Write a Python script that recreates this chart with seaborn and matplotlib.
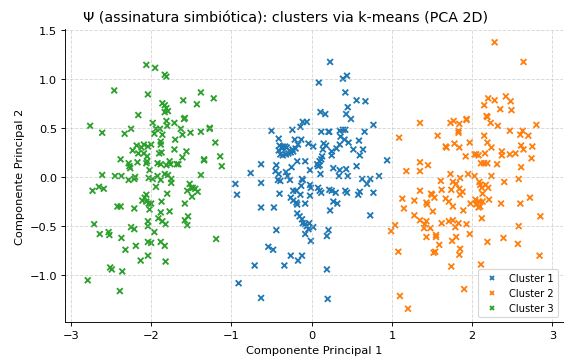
import matplotlib
matplotlib.use('Agg')
import matplotlib.pyplot as plt
import pandas as pd
import seaborn as sns

# PCA coordinates, one pair of lists per cluster
c1_x = [0.23, 0.09, 0.39, 0.44, 0.42, 0.56, 0.67, 0.45, 0.43, 0.49,
        0.11, 0.17, -0.11, -0.06, -0.14, -0.24, -0.50, 0.12, 0.21, 0.22,
        0.35, 0.39, 0.42, 0.66, 0.77, -0.41, -0.21, -0.13, 0.36, 0.41,
        0.46, 0.59, -0.04, 0.02, 0.15, 0.18, -0.17, -0.40, -0.36, -0.33,
        -0.31, -0.20, -0.24, -0.37, -0.41, -0.39, -0.36, -0.32, -0.29, -0.26,
        -0.23, 0.14, 0.25, 0.25, 0.31, 0.35, 0.52, 0.64, 0.60, 0.13,
        0.12, 0.10, 0.07, 0.08, 0.10, -0.18, -0.08, -0.44, -0.25, -0.63,
        0.94, -0.45, -0.41, -0.32, -0.30, -0.02, 0.11, 0.27, 0.35, 0.43,
        0.56, 0.34, 0.45, -0.76, 0.84, -0.42, -0.39, -0.27, -0.12, -0.11,
        -0.63, -0.13, -0.02, -0.01, 0.08, 0.10, 0.12, 0.22, 0.25, 0.30,
        0.42, 0.44, 0.60, 0.58, 0.63, 0.69, 0.73, 0.77, -0.23, -0.19,
        -0.14, -0.40, -0.26, -0.23, -0.19, -0.18, -0.08, -0.02, 0.27, 0.32,
        0.23, -0.63, -0.47, -0.18, -0.15, -0.12, -0.11, -0.08, -0.06, -0.03,
        -0.04, 0.02, -0.08, -0.01, 0.21, 0.19, 0.73, -0.44, -0.54, -0.48,
        -0.26, -0.17, -0.12, -0.34, -0.71, 0.19, -0.63, 0.20,
        -0.95, -0.93, -0.91]
c1_y = [1.17, 0.96, 1.00, 1.03, 0.86, 0.78, 0.77, 0.71, 0.64, 0.59,
        0.66, 0.64, 0.56, 0.56, 0.51, 0.48, 0.47, 0.46, 0.46, 0.46,
        0.47, 0.48, 0.48, 0.46, 0.53, 0.39, 0.38, 0.38, 0.41, 0.38,
        0.35, 0.37, 0.34, 0.31, 0.34, 0.32, 0.33, 0.32, 0.31, 0.31,
        0.30, 0.29, 0.28, 0.29, 0.27, 0.23, 0.22, 0.23, 0.24, 0.25,
        0.26, 0.28, 0.26, 0.22, 0.29, 0.33, 0.28, 0.28, 0.22, 0.21,
        0.18, 0.16, 0.13, 0.11, 0.12, 0.16, 0.16, 0.12, 0.10, 0.13,
        0.17, 0.06, 0.03, 0.05, 0.01, 0.07, 0.03, 0.09, 0.07, 0.08,
        0.11, 0.01, 0.01, 0.04, 0.01, -0.03, -0.04, -0.03, -0.02, -0.03,
        -0.06, -0.09, -0.08, -0.11, -0.11, -0.14, -0.16, -0.13, -0.14, -0.16,
        -0.14, -0.16, -0.15, -0.18, -0.02, -0.07, -0.02, -0.16, -0.14, -0.14,
        -0.18, -0.17, -0.21, -0.24, -0.26, -0.28, -0.27, -0.19, -0.25, -0.27,
        -0.34, -0.31, -0.31, -0.37, -0.40, -0.43, -0.47, -0.48, -0.50, -0.47,
        -0.53, -0.51, -0.58, -0.65, -0.54, -0.60, -0.39, -0.54, -0.71, -0.74,
        -0.80, -0.85, -0.80, -0.90, -0.90, -0.94, -1.23, -1.24,
        -0.07, -0.18, -1.08]

c2_x = [2.28, 2.64, 2.20, 2.28, 2.42, 2.48, 2.15, 2.35, 2.49, 2.18,
        2.19, 2.23, 2.32, 1.93, 1.93, 1.77, 1.73, 1.84, 1.83, 1.83,
        1.35, 1.09, 1.57, 1.67, 1.68, 1.78, 1.84, 1.97, 2.15, 2.19,
        2.24, 2.47, 2.63, 2.60, 2.70, 2.80, 2.61, 2.64, 2.75, 2.74,
        2.37, 2.37, 2.47, 2.54, 1.92, 2.03, 2.05, 2.08, 2.16, 2.11,
        2.15, 2.19, 2.31, 2.61, 1.35, 1.45, 1.18, 1.35, 1.73, 1.95,
        2.03, 2.24, 2.58, 2.40, 1.61, 1.76, 1.80, 1.85, 2.09, 2.10,
        2.17, 2.20, 2.12, 2.13, 1.35, 1.49, 1.50, 1.62, 1.74, 1.84,
        1.88, 1.85, 1.53, 1.67, 1.71, 1.76, 1.89, 1.98, 2.04, 2.06,
        2.09, 2.13, 2.10, 2.08, 2.05, 2.21, 2.36, 2.60, 2.72, 1.13,
        1.28, 1.15, 1.43, 1.44, 1.51, 1.28, 1.35, 1.43, 1.41, 1.40,
        1.48, 1.62, 1.71, 1.76, 1.79, 1.83, 1.93, 2.12, 1.97, 1.80,
        1.75, 1.55, 1.55, 1.43, 1.59, 1.52, 1.54, 1.85, 1.84, 1.74,
        2.19, 2.39, 2.57, 2.58, 2.85, 2.84, 2.11, 1.90, 1.08, 0.99,
        1.04, 1.10, 1.20]
c2_y = [1.37, 1.17, 0.80, 0.78, 0.82, 0.77, 0.73, 0.69, 0.68, 0.62,
        0.61, 0.55, 0.52, 0.59, 0.58, 0.57, 0.55, 0.54, 0.47, 0.45,
        0.55, 0.40, 0.42, 0.31, 0.30, 0.34, 0.30, 0.35, 0.42, 0.35,
        0.30, 0.47, 0.47, 0.43, 0.42, 0.53, 0.32, 0.28, 0.31, 0.19,
        0.26, 0.22, 0.23, 0.24, 0.21, 0.23, 0.23, 0.22, 0.24, 0.14,
        0.14, 0.14, 0.13, 0.10, 0.15, 0.12, 0.06, 0.06, 0.03, 0.03,
        0.01, 0.01, -0.02, -0.05, -0.04, -0.05, -0.07, -0.01, -0.05, -0.08,
        -0.08, -0.11, -0.11, -0.17, -0.14, -0.17, -0.18, -0.13, -0.13, -0.12,
        -0.15, -0.18, -0.21, -0.22, -0.25, -0.30, -0.34, -0.27, -0.23, -0.27,
        -0.25, -0.25, -0.30, -0.31, -0.28, -0.23, -0.27, -0.27, -0.21, -0.22,
        -0.24, -0.32, -0.26, -0.28, -0.35, -0.39, -0.44, -0.45, -0.48, -0.52,
        -0.52, -0.47, -0.45, -0.44, -0.51, -0.47, -0.48, -0.42, -0.58, -0.61,
        -0.65, -0.59, -0.61, -0.61, -0.69, -0.77, -0.76, -0.73, -0.79, -0.91,
        -0.66, -0.62, -0.68, -0.50, -0.40, -0.80, -0.89, -1.14, -0.76, -0.55,
        -0.49, -1.21, -1.34]

c3_x = [-2.06, -1.95, -1.83, -1.81, -2.46, -2.04, -1.38, -1.22, -1.86, -1.83,
        -1.81, -1.79, -1.83, -1.60, -1.43, -2.16, -1.58, -1.59, -2.76, -2.61,
        -2.33, -2.25, -1.98, -1.94, -1.89, -1.81, -1.80, -1.71, -1.63, -1.61,
        -1.51, -1.38, -1.27, -1.27, -1.96, -1.86, -1.70, -1.88, -1.88, -1.20,
        -2.18, -2.09, -2.12, -2.04, -2.00, -2.23, -2.16, -2.09, -2.05, -1.90,
        -1.87, -1.71, -1.56, -1.61, -1.14, -2.38, -2.28, -2.27, -2.26, -2.17,
        -2.06, -2.05, -1.92, -1.88, -1.81, -1.77, -1.76, -1.68, -1.66, -1.34,
        -1.34, -1.12, -2.02, -2.61, -2.45, -2.37, -2.28, -2.20, -2.21, -2.03,
        -1.98, -1.92, -1.88, -1.83, -1.79, -1.75, -1.75, -1.38, -2.73, -2.65,
        -2.59, -1.94, -1.52, -1.50, -1.55, -1.48, -1.45, -1.42, -1.49, -1.80,
        -2.06, -2.08, -2.11, -2.06, -2.03, -2.00, -2.02, -1.87, -1.58, -2.42,
        -2.38, -2.21, -1.88, -1.77, -1.54, -1.58, -1.55, -1.91, -1.86, -1.82,
        -2.04, -2.04, -2.71, -2.25, -2.21, -2.64, -2.53, -2.52, -2.37, -1.96,
        -1.19, -2.04, -2.00, -1.88, -1.83, -2.19, -2.32, -2.04, -2.13, -1.82,
        -2.51, -2.49, -2.36, -2.79, -2.39]
c3_y = [1.14, 1.11, 1.04, 1.02, 0.88, 0.84, 0.86, 0.80, 0.75, 0.73,
        0.70, 0.67, 0.66, 0.78, 0.74, 0.63, 0.60, 0.59, 0.52, 0.45,
        0.44, 0.49, 0.55, 0.49, 0.49, 0.57, 0.52, 0.55, 0.49, 0.43,
        0.45, 0.46, 0.50, 0.49, 0.44, 0.43, 0.38, 0.36, 0.33, 0.35,
        0.32, 0.33, 0.30, 0.31, 0.33, 0.27, 0.24, 0.24, 0.21, 0.24,
        0.25, 0.28, 0.26, 0.20, 0.21, 0.18, 0.14, 0.11, 0.09, 0.15,
        0.14, 0.16, 0.14, 0.13, 0.12, 0.16, 0.13, 0.13, 0.13, 0.18,
        0.17, 0.11, 0.07, 0.02, 0.01, 0.01, -0.03, 0.00, -0.02, -0.01,
        -0.02, 0.01, -0.03, 0.03, 0.02, -0.02, -0.06, 0.02, -0.14, -0.10,
        -0.12, -0.10, -0.07, -0.11, -0.14, -0.11, -0.12, -0.15, -0.20, -0.17,
        -0.18, -0.21, -0.24, -0.25, -0.27, -0.27, -0.33, -0.25, -0.27, -0.30,
        -0.30, -0.32, -0.36, -0.35, -0.40, -0.44, -0.49, -0.42, -0.45, -0.48,
        -0.45, -0.50, -0.48, -0.51, -0.53, -0.58, -0.56, -0.59, -0.62, -0.56,
        -0.63, -0.66, -0.67, -0.66, -0.70, -0.70, -0.74, -0.80, -0.85, -0.86,
        -0.92, -0.94, -0.96, -1.05, -1.16]

cluster_names = ['Cluster 1', 'Cluster 2', 'Cluster 3']

df = pd.concat([
    pd.DataFrame({'pc1': c1_x, 'pc2': c1_y, 'cluster': cluster_names[0]}),
    pd.DataFrame({'pc1': c2_x, 'pc2': c2_y, 'cluster': cluster_names[1]}),
    pd.DataFrame({'pc1': c3_x, 'pc2': c3_y, 'cluster': cluster_names[2]}),
], ignore_index=True)

dpi = 571 / 7
fig, ax = plt.subplots(figsize=(7, 361 / dpi), dpi=dpi)
fig.subplots_adjust(left=0.114, right=0.986, bottom=0.105, top=0.917)

sns.scatterplot(data=df, x='pc1', y='pc2', hue='cluster', hue_order=cluster_names,
                palette=['tab:blue', 'tab:orange', 'tab:green'],
                marker='x', s=26, linewidth=1.6, ax=ax)

# title is centred on the figure, not on the axes
fig.suptitle('Ψ (assinatura simbiótica): clusters via k-means (PCA 2D)',
             fontsize=12.6, x=0.5, y=0.95, va='center')
ax.set_xlabel('Componente Principal 1')
ax.set_ylabel('Componente Principal 2')
ax.grid(True, linestyle='--', alpha=0.5)
ax.legend(loc='lower right', markerscale=0.8, fontsize=8.7)
sns.despine(ax=ax)

fig.savefig('out.png', dpi=dpi)
